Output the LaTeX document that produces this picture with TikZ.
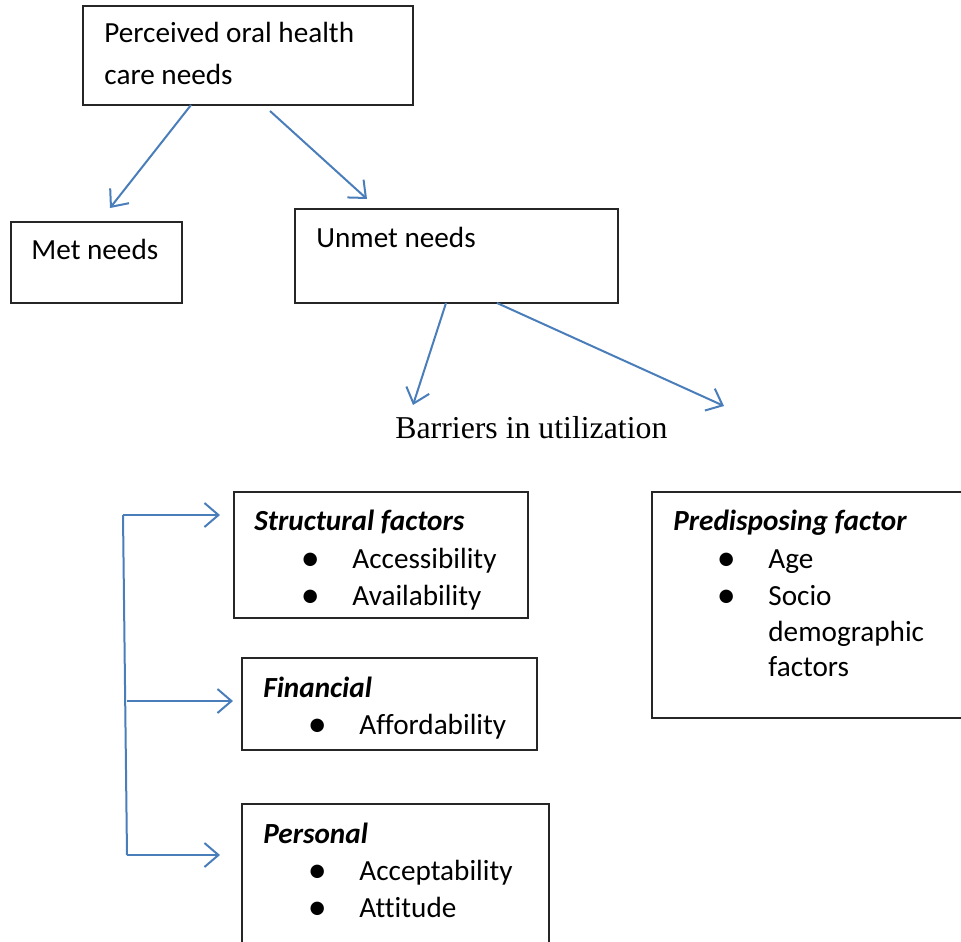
\documentclass[tikz,border=0pt]{standalone}
\usepackage{fontspec}
\usepackage{graphicx}
\setmainfont[Ligatures=NoCommon]{Carlito}
\newfontfamily\timesfont{Liberation Serif}
\usetikzlibrary{arrows.meta,calc}

\definecolor{linkblue}{HTML}{4A7EBB}
\newcommand{\bul}{\llap{\makebox[42pt]{\raisebox{-1.2pt}{\scalebox{1.3}{\textbullet}}}}}

\tikzset{
  box/.style={draw=black!85, line width=0.75pt, inner sep=0pt, outer sep=0pt, anchor=north west},
  rim/.style={draw=black!85, line width=0.75pt},
  txt/.style={inner sep=0pt, anchor=base west, font=\fontsize{14.6}{18}\selectfont},
  head/.style={txt, font=\fontsize{14.6}{18}\selectfont\bfseries\itshape},
  wire/.style={draw=linkblue, line width=1pt},
  link/.style={wire, -{Straight Barb[length=7pt,width=12pt]}}
}

\begin{document}
\begin{tikzpicture}[x=0.5pt, y=-0.5pt]
    \useasboundingbox (0,0) rectangle (961,941);
    \clip (0,0) rectangle (961,941);
    % needs
    \node [box, minimum width=165pt, minimum height=49.5pt]  (perc)  at (83,6) {};
    \node [box, minimum width=85.5pt, minimum height=40.5pt] (met)   at (11,222) {};
    \node [box, minimum width=161.5pt, minimum height=47pt]  (unmet) at (295,209) {};
    \node [txt] (perc1) at (104,43) {Perceived oral health};
    \node [txt] (perc2) at (104,85) {care needs};
    \node [txt] (mett)  at (31,259) {Met needs};
    \node [txt] (unmt)  at (316,247) {Unmet needs};
    \draw [link] ($(perc.south west)+(108,0)$) -- ($(met.north west)+(99,-14)$);
    \draw [link] ($(perc.south west)+(187,6)$) -- ($(unmet.north west)+(72,-10)$);
    % barriers
    \coordinate (tipl) at (413,405);
    \coordinate (tipr) at (724,406);
    \draw [link] ($(unmet.south west)+(151,0)$) -- (tipl);
    \draw [link] ($(unmet.south west)+(202,0)$) -- (tipr);
    \node [txt, font=\timesfont\fontsize{15.9}{19}\selectfont] (bar) at (395,438) {Barriers in utilization};
    % factor boxes
    \node [box, minimum width=147pt, minimum height=63pt]   (struct) at (234,492) {};
    \node [box, minimum width=147.5pt, minimum height=46pt] (fin)    at (242,658) {};
    \node [box, minimum width=153.5pt, minimum height=90pt] (pers)   at (242,804) {};
    \node [box, draw=none, minimum width=220pt, minimum height=113pt] (pred) at (652,492) {};
    \draw [rim] (pred.north east) -- (pred.north west) -- (pred.south west) -- (pred.south east);
    % structural
    \node [head] (sth) at (254,530) {Structural factors};
    \node [txt]  (st1) at (352,568) {\bul Accessibility};
    \node [txt]  (st2) at (352,605) {\bul Availability};
    % financial
    \node [head] (fih) at (263,697) {Financial};
    \node [txt]  (fi1) at (359,734) {\bul Affordability};
    % personal
    \node [head] (peh) at (263,843) {Personal};
    \node [txt]  (pe1) at (359,880) {\bul Acceptability};
    \node [txt]  (pe2) at (359,917) {\bul Attitude};
    % predisposing
    \node [head] (prh) at (673,530) {Predisposing factor};
    \node [txt]  (pr1) at (768,568) {\bul Age};
    \node [txt]  (pr2) at (768,605) {\bul Socio};
    \node [txt]  (pr3) at (768,641) {demographic};
    \node [txt]  (pr4) at (768,676) {factors};
    % bracket
    \coordinate (btop) at (123,515);
    \coordinate (bmid) at (127,701);
    \coordinate (bbot) at (127,855);
    \draw [wire] (btop) -- (bbot);
    \draw [link] (btop) -- ([xshift=-7pt]struct.west |- btop);
    \draw [link] (bmid) -- ([xshift=-4.5pt]fin.west |- bmid);
    \draw [link] (bbot) -- ([xshift=-11pt]pers.west |- bbot);
\end{tikzpicture}
\end{document}
